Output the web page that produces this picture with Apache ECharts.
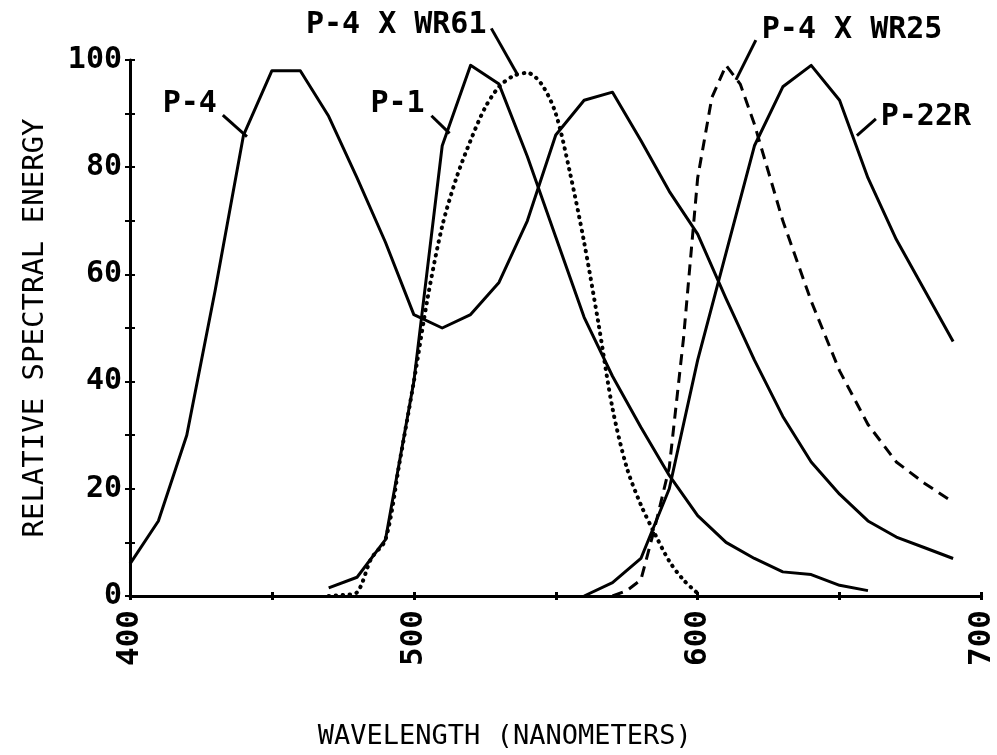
<!DOCTYPE html>
<html><head><meta charset="utf-8">
<script src="https://cdn.jsdelivr.net/npm/echarts@6/dist/echarts.min.js"></script>
<style>html,body{margin:0;padding:0;background:#fff}#c{width:997px;height:755px}</style>
</head><body><div id="c"></div>
<script>
// ---- data ----
const xTickLabels = [400, 500, 600, 700];
const yTickLabels = [0, 20, 40, 60, 80, 100];

const p4Wl  = [400,410,420,430,440,450,460,470,480,490,500,510,520,530,540,550,560,570,580,590,600,610,620,630,640,650,660,670,680,690];
const p4Val = [6,14,30,57,86,98,98,89.5,78,66,52.5,50,52.5,58.5,70,86,92.5,94,85,75.5,67.5,55.5,44,33.5,25,19,14,11,9,7];

const p1Wl  = [470,480,490,500,510,520,530,540,550,560,570,580,590,600,610,620,630,640,650,660];
const p1Val = [1.5,3.5,10.5,40,84,99,95.5,82,67,52,41,31.5,22.5,15,10,7,4.5,4,2,1];

const p22Wl  = [560,570,580,590,600,610,620,630,640,650,660,670,680,690];
const p22Val = [0,2.5,7,20,44,64,84,95,99,92.5,78,66.5,57,47.5];

const wr61Wl  = [470,475,480,485,490,495,500,505,510,515,520,525,530,535,540,545,550,555,560,565,570,575,580,585,590,595,600];
const wr61Val = [0,0.2,0.7,7,10.5,25,40,56,69,78,85,91,95,97,97.6,95.5,90,79,66,51,35,24,17,11.5,6.5,3,0.5];

const wr25Wl  = [570,575,580,585,590,595,600,605,610,615,620,630,640,650,660,670,680,690];
const wr25Val = [0,1,3,13,24,48,78,93,99,95.5,88,70,55,42,32,25,21,17.5];

// annotation labels (text anchor + leader line, in data units)
const annText   = ['P-4', 'P-1', 'P-4 X WR61', 'P-4 X WR25', 'P-22R'];
const annAlign  = ['right', 'right', 'right', 'left', 'left'];
const annTextAt = [[430.6, 91.8], [503.8, 91.8], [525.6, 106.4], [622.6, 105.5], [664.5, 89.4]];
const annFrom   = [[432.7, 89.7], [506.2, 89.6], [527.3, 105.9], [620.5, 103.7], [662.8, 89.0]];
const annTo     = [[441.2, 85.7], [512.6, 86.3], [536.5, 97.3], [613.5, 96.3], [656.1, 85.9]];

const FONT = 'DejaVu Sans Mono';
const zip = (a, b) => a.map((v, i) => [v, b[i]]);

const chart = echarts.init(document.getElementById('c'), null, {renderer: 'canvas'});

const lineSeries = (name, data, type, smooth) => ({
  name, type: 'line', data, symbol: 'none', smooth: smooth || false,
  xAxisIndex: 0, yAxisIndex: 0,
  lineStyle: {color: '#000', width: type === 'dotted' ? 4 : 3, type: type === 'dotted' ? [0.5, 6.5] : (type === 'dashed' ? [11, 7] : 'solid'), cap: type === 'dotted' ? 'round' : 'butt', join: 'round'},
  z: 3
});

const axisCommonX = {
  type: 'value', min: 400, max: 700, interval: 50,
  splitLine: {show: false}
};
const axisCommonY = {
  type: 'value', min: 0, max: 100, interval: 10,
  splitLine: {show: false}
};

chart.setOption({
  animation: false,
  backgroundColor: '#fff',
  grid: {left: 130, right: 14, top: 60, bottom: 149, containLabel: false},
  xAxis: [
    Object.assign({}, axisCommonX, {
      position: 'bottom',
      axisLine: {show: true, lineStyle: {color: '#000', width: 3}},
      axisTick: {show: true, length: 4, lineStyle: {color: '#000', width: 3}},
      axisLabel: {
        show: true, rotate: 90, margin: 14, color: '#000', fontFamily: FONT, fontWeight: 'bold', fontSize: 31,
        formatter: v => (xTickLabels.indexOf(v) >= 0 ? String(v) : '')
      },
      name: 'WAVELENGTH (NANOMETERS)', nameLocation: 'middle', nameGap: 127,
      nameTextStyle: {color: '#000', fontFamily: FONT, fontSize: 27, padding: [0, 102, 0, 0]}
    }),
    Object.assign({}, axisCommonX, {
      position: 'bottom',
      axisLine: {show: false},
      axisTick: {show: true, inside: true, length: 4, lineStyle: {color: '#000', width: 3}},
      axisLabel: {show: false}
    })
  ],
  yAxis: [
    Object.assign({}, axisCommonY, {
      position: 'left',
      axisLine: {show: true, lineStyle: {color: '#000', width: 3}},
      axisTick: {show: true, length: 5, lineStyle: {color: '#000', width: 2}},
      axisLabel: {
        show: true, margin: 8, color: '#000', fontFamily: FONT, fontWeight: 'bold', fontSize: 30,
        formatter: v => (yTickLabels.indexOf(v) >= 0 ? String(v) : '')
      },
      name: 'RELATIVE SPECTRAL ENERGY', nameLocation: 'middle', nameGap: 80,
      nameTextStyle: {color: '#000', fontFamily: FONT, fontSize: 29}
    }),
    Object.assign({}, axisCommonY, {
      position: 'left', offset: 0,
      axisLine: {show: false},
      axisTick: {show: true, inside: true, length: 5, lineStyle: {color: '#000', width: 2}},
      axisLabel: {show: false}
    })
  ],
  series: [
    lineSeries('P-4', zip(p4Wl, p4Val), 'solid'),
    lineSeries('P-1', zip(p1Wl, p1Val), 'solid'),
    lineSeries('P-22R', zip(p22Wl, p22Val), 'solid'),
    lineSeries('P-4 X WR61', zip(wr61Wl, wr61Val), 'dotted', 0.3),
    lineSeries('P-4 X WR25', zip(wr25Wl, wr25Val), 'dashed')
  ]
});

// annotations positioned through the axis scales
const toPx = p => chart.convertToPixel({xAxisIndex: 0, yAxisIndex: 0}, p);
const graphics = [];
annText.forEach((t, i) => {
  const a = toPx(annTextAt[i]), f = toPx(annFrom[i]), e = toPx(annTo[i]);
  graphics.push({
    type: 'text', x: a[0], y: a[1], z: 10,
    style: {text: t, fill: '#000', font: 'bold 30px "' + FONT + '"', align: annAlign[i], verticalAlign: 'middle'}
  });
  graphics.push({
    type: 'line', z: 10,
    shape: {x1: f[0], y1: f[1], x2: e[0], y2: e[1]},
    style: {stroke: '#000', lineWidth: 3}
  });
});
chart.setOption({graphic: graphics});
</script>
</body></html>
